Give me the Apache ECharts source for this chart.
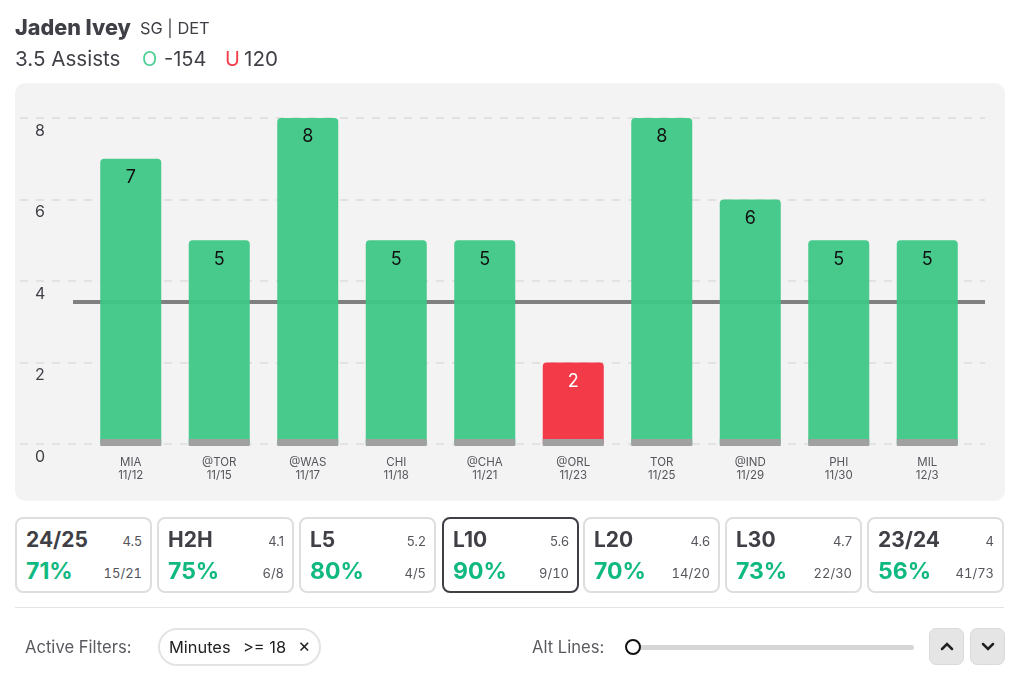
<!DOCTYPE html>
<html>
<head>
<meta charset="utf-8">
<script src="https://cdn.jsdelivr.net/npm/echarts@6/dist/echarts.min.js"></script>
<style>
  html, body { margin: 0; padding: 0; background: #fff; }
  body { width: 1024px; height: 676px; position: relative; overflow: hidden; font-family: Inter, sans-serif; color: #3f3f46; }
  .abs { position: absolute; white-space: nowrap; }
  #panel { left: 15px; top: 83px; width: 990px; height: 418px; background: #f3f3f3; border-radius: 10px; }
  #histogram { left: 0; top: 0; width: 1024px; height: 676px; }
  .card { position: absolute; top: 517px; width: 133px; height: 72px; border: 2px solid #dedede; border-radius: 8px; background: #fff; box-sizing: content-box; }
  .card.on { border-color: #3f3f46; }
  .card div { position: absolute; white-space: nowrap; }
  .name { left: 9px; top: 8px; font-size: 21px; font-weight: 700; line-height: 26px; }
  .avg { right: 8px; top: 13px; font-size: 13px; line-height: 18px; color: #55555c; }
  .pct { left: 9px; top: 38px; font-size: 23px; font-weight: 700; line-height: 28px; color: #10b981; }
  .cnt { right: 8px; top: 45px; font-size: 13px; line-height: 18px; color: #55555c; font-variant-numeric: tabular-nums; }
  .btn { position: absolute; top: 628px; width: 33px; height: 35px; background: #e5e5e5; border: 1px solid #dadada; border-radius: 7px; }
</style>
</head>
<body>
<div class="abs" id="panel"></div>
<div class="abs" id="histogram"></div>

<div class="abs" style="left:15px;top:13px;font-size:21.6px;font-weight:800;line-height:28px">Jaden Ivey</div>
<div class="abs" style="left:140px;top:17px;font-size:16.4px;line-height:22px">SG | DET</div>
<div class="abs" style="left:15px;top:45px;font-size:20.6px;line-height:28px">3.5 Assists</div>
<div class="abs" style="left:142px;top:45px;font-size:20px;line-height:28px;color:#4fcf96">O</div>
<div class="abs" style="left:164px;top:45px;font-size:20px;line-height:28px">-154</div>
<div class="abs" style="left:225px;top:45px;font-size:20px;line-height:28px;color:#f23a48">U</div>
<div class="abs" style="left:244px;top:45px;font-size:20.6px;line-height:28px">120</div>

<div id="cards"></div>

<div class="abs" style="left:15px;top:607px;width:989px;height:1px;background:#e3e3e3"></div>
<div class="abs" style="left:25px;top:637px;font-size:16.6px;line-height:20px;color:#5a5a60">Active Filters:</div>
<div class="abs" style="left:158px;top:628px;width:159px;height:34px;border:2px solid #e3e3e3;border-radius:19px"></div>
<div class="abs" style="left:169px;top:637px;font-size:16.4px;line-height:20px;color:#222">Minutes</div>
<div class="abs" style="left:243px;top:637px;font-size:16.4px;line-height:20px;color:#222">&gt;= 18</div>
<div class="abs" style="left:298px;top:636px;font-size:19px;line-height:20px;color:#222">×</div>
<div class="abs" style="left:532px;top:637px;font-size:16.6px;line-height:20px;color:#5a5a60">Alt Lines:</div>
<div class="abs" style="left:636px;top:645px;width:278px;height:5px;background:#d6d6d6;border-radius:3px"></div>
<div class="abs" style="left:625px;top:639px;width:12px;height:12px;background:#fff;border:2.5px solid #111;border-radius:50%"></div>
<div class="btn" style="left:929px"><svg width="33" height="35"><path d="M12 20 L17 15 L22 20" fill="none" stroke="#222" stroke-width="2.5" stroke-linecap="round"/></svg></div>
<div class="btn" style="left:970px"><svg width="33" height="35"><path d="M12 15 L17 20 L22 15" fill="none" stroke="#222" stroke-width="2.5" stroke-linecap="round"/></svg></div>

<script>
var opponents = ['MIA', '@TOR', '@WAS', 'CHI', '@CHA', '@ORL', 'TOR', '@IND', 'PHI', 'MIL']
var dates = ['11/12', '11/15', '11/17', '11/18', '11/21', '11/23', '11/25', '11/29', '11/30', '12/3']
var assists = [7, 5, 8, 5, 5, 2, 8, 6, 5, 5]
var floorTop = [0.12, 0.12, 0.12, 0.12, 0.12, 0.12, 0.12, 0.12, 0.12, 0.12]
var floorBottom = [-0.05, -0.05, -0.05, -0.05, -0.05, -0.05, -0.05, -0.05, -0.05, -0.05]
var propLine = 3.5

var cardNames = ['24/25', 'H2H', 'L5', 'L10', 'L20', 'L30', '23/24']
var cardAvgs = ['4.5', '4.1', '5.2', '5.6', '4.6', '4.7', '4']
var cardPcts = ['71%', '75%', '80%', '90%', '70%', '73%', '56%']
var cardCounts = ['15/21', '6/8', '4/5', '9/10', '14/20', '22/30', '41/73']
var cardLefts = [15, 157, 299, 442, 583, 725, 867]

// hit rate cards under the chart
var html = ''
cardNames.forEach(function (name, i) {
  html += '<div class="card' + (name === 'L10' ? ' on' : '') + '" style="left:' + cardLefts[i] + 'px">' +
    '<div class="name">' + name + '</div><div class="avg">' + cardAvgs[i] + '</div>' +
    '<div class="pct">' + cardPcts[i] + '</div><div class="cnt">' + cardCounts[i] + '</div></div>'
})
document.getElementById('cards').innerHTML = html

var myChart = echarts.init(document.getElementById('histogram'))

var categories = opponents.map(function (o, i) { return o + '\n' + dates[i] })
var green = 'rgba(60,199,133,0.94)'
var red = 'rgba(242,46,61,0.94)'
var chartFont = 'Inter'

var option = {
  animation: false,
  grid: [
    { left: 20, top: 118, width: 965, height: 326, outerBoundsMode: 'none' },
    { left: 86.5, top: 118, width: 885, height: 326, outerBoundsMode: 'none' },
  ],
  xAxis: [
    { gridIndex: 0, type: 'category', data: categories, show: false },
    {
      gridIndex: 1,
      type: 'category',
      data: categories,
      axisLine: { show: false },
      axisTick: { show: false },
      axisLabel: { margin: 12, interval: 0, fontFamily: chartFont, fontSize: 11.5, lineHeight: 13, color: '#55555c' },
    },
  ],
  yAxis: [
    {
      gridIndex: 0,
      type: 'value',
      min: 0,
      max: 8,
      interval: 2,
      axisLine: { show: false },
      axisTick: { show: false },
      axisLabel: { inside: true, margin: 15, align: 'left', verticalAlign: 'top', padding: [5, 0, 0, 0], fontFamily: chartFont, fontSize: 16, color: '#3f3f46' },
      splitLine: { lineStyle: { type: [8, 8], width: 1.5, color: '#dddddd' } },
    },
    { gridIndex: 1, type: 'value', min: 0, max: 8, interval: 2, show: false, splitLine: { show: false } },
  ],
  series: [
    {
      name: 'line',
      type: 'line',
      xAxisIndex: 0,
      yAxisIndex: 0,
      data: [],
      silent: true,
      markLine: {
        silent: true,
        z: 1,
        symbol: 'none',
        label: { show: false },
        lineStyle: { type: 'solid', width: 4, color: '#808080' },
        data: [[{ x: 73, yAxis: propLine }, { x: 985, yAxis: propLine }]],
      },
    },
    {
      name: 'assists',
      type: 'bar',
      xAxisIndex: 1,
      yAxisIndex: 1,
      barWidth: 61,
      barGap: '-100%',
      z: 3,
      data: assists.map(function (v) {
        return {
          value: v,
          itemStyle: { color: v > propLine ? green : red, borderRadius: [4, 4, 0, 0] },
          label: { color: v > propLine ? '#111' : '#fff' },
        }
      }),
      label: { show: true, position: 'insideTop', distance: 10, fontFamily: chartFont, fontSize: 18 },
    },
    {
      name: 'floorTop',
      type: 'bar',
      xAxisIndex: 1,
      yAxisIndex: 1,
      barWidth: 61,
      barGap: '-100%',
      z: 4,
      data: floorTop,
      itemStyle: { color: '#a0a0a0' },
    },
    {
      name: 'floorBottom',
      type: 'bar',
      xAxisIndex: 1,
      yAxisIndex: 1,
      barWidth: 61,
      barGap: '-100%',
      clip: false,
      z: 4,
      data: floorBottom,
      itemStyle: { color: '#a0a0a0' },
    },
  ],
}

myChart.setOption(option)
</script>
</body>
</html>
